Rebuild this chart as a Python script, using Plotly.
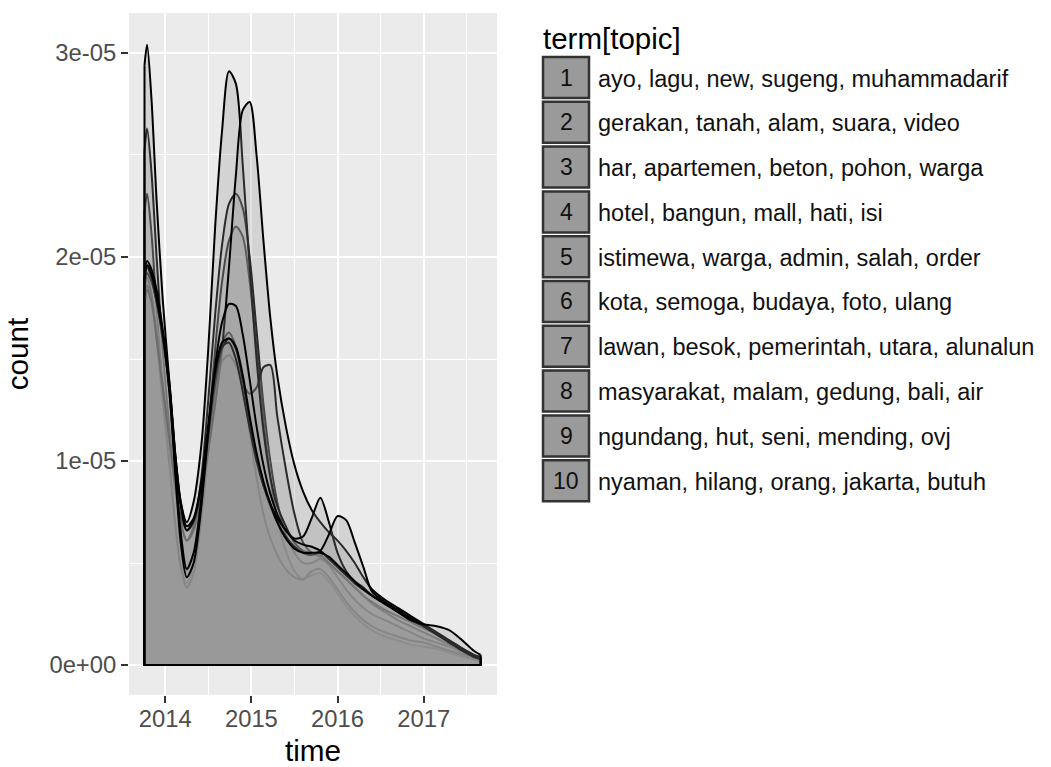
import plotly.graph_objects as go

# ---- data: topic-density curves over time (count in units of 1e-05) ----
time_years = [2013.76, 2013.79, 2013.84, 2013.90, 2013.97, 2014.05, 2014.12, 2014.18,
              2014.25, 2014.33, 2014.42, 2014.50, 2014.58, 2014.66, 2014.74, 2014.82,
              2014.90, 2014.98, 2015.06, 2015.14, 2015.22, 2015.30, 2015.40, 2015.50,
              2015.60, 2015.70, 2015.80, 2015.90, 2016.00, 2016.10, 2016.20, 2016.30,
              2016.40, 2016.55, 2016.70, 2016.85, 2017.00, 2017.15, 2017.30, 2017.45,
              2017.58, 2017.66]

count_t1 = [2.22, 2.31, 2.12, 1.75, 1.35, 0.98, 0.68, 0.49, 0.40, 0.50, 0.78, 1.15, 1.55, 1.88,
            2.08, 2.15, 2.10, 1.88, 1.55, 1.20, 0.92, 0.72, 0.56, 0.46, 0.42, 0.44, 0.45, 0.41,
            0.35, 0.29, 0.24, 0.20, 0.17, 0.14, 0.12, 0.10, 0.09, 0.08, 0.06, 0.04, 0.03, 0.02]
count_t2 = [2.52, 2.63, 2.42, 2.00, 1.55, 1.15, 0.86, 0.70, 0.61, 0.68, 0.92, 1.30, 1.72, 2.06,
            2.26, 2.31, 2.24, 2.00, 1.64, 1.28, 1.00, 0.80, 0.64, 0.55, 0.50, 0.50, 0.52, 0.49,
            0.43, 0.37, 0.32, 0.28, 0.25, 0.22, 0.19, 0.16, 0.13, 0.11, 0.09, 0.06, 0.03, 0.02]
count_t3 = [1.82, 1.90, 1.82, 1.60, 1.30, 0.98, 0.68, 0.48, 0.38, 0.45, 0.72, 1.05, 1.38, 1.58,
            1.63, 1.56, 1.38, 1.15, 0.92, 0.74, 0.62, 0.54, 0.47, 0.43, 0.42, 0.46, 0.47, 0.43,
            0.37, 0.31, 0.26, 0.22, 0.19, 0.16, 0.14, 0.12, 0.11, 0.09, 0.07, 0.05, 0.03, 0.02]
count_t4 = [1.78, 1.86, 1.80, 1.62, 1.38, 1.10, 0.85, 0.70, 0.61, 0.66, 0.84, 1.10, 1.35, 1.49,
            1.52, 1.47, 1.38, 1.33, 1.36, 1.46, 1.47, 1.22, 0.96, 0.74, 0.60, 0.55, 0.53, 0.50,
            0.46, 0.42, 0.38, 0.34, 0.30, 0.26, 0.22, 0.19, 0.16, 0.13, 0.10, 0.07, 0.04, 0.03]
count_t5 = [2.94, 3.04, 2.78, 2.28, 1.80, 1.38, 1.02, 0.80, 0.70, 0.80, 1.08, 1.55, 2.15, 2.62,
            2.91, 2.85, 2.45, 1.95, 1.50, 1.15, 0.92, 0.78, 0.68, 0.60, 0.56, 0.55, 0.54, 0.50,
            0.46, 0.42, 0.38, 0.34, 0.31, 0.27, 0.24, 0.21, 0.18, 0.15, 0.12, 0.08, 0.05, 0.04]
count_t6 = [1.76, 1.84, 1.78, 1.60, 1.36, 1.10, 0.87, 0.73, 0.66, 0.70, 0.85, 1.05, 1.28, 1.55,
            1.95, 2.40, 2.72, 2.76, 2.50, 2.08, 1.70, 1.42, 1.17, 0.98, 0.85, 0.76, 0.70, 0.65,
            0.61, 0.56, 0.50, 0.43, 0.37, 0.32, 0.28, 0.24, 0.20, 0.16, 0.12, 0.08, 0.05, 0.04]
count_t7 = [1.90, 1.98, 1.94, 1.84, 1.65, 1.38, 1.02, 0.80, 0.68, 0.72, 0.90, 1.18, 1.47, 1.68,
            1.77, 1.76, 1.62, 1.40, 1.17, 0.98, 0.84, 0.74, 0.66, 0.62, 0.63, 0.72, 0.82, 0.70,
            0.55, 0.46, 0.41, 0.38, 0.34, 0.30, 0.26, 0.22, 0.19, 0.15, 0.11, 0.07, 0.04, 0.03]
count_t8 = [1.85, 1.92, 1.88, 1.78, 1.60, 1.36, 1.00, 0.78, 0.66, 0.71, 0.88, 1.12, 1.38, 1.55,
            1.60, 1.55, 1.40, 1.20, 1.02, 0.88, 0.78, 0.70, 0.63, 0.58, 0.55, 0.54, 0.56, 0.64,
            0.73, 0.71, 0.60, 0.48, 0.36, 0.31, 0.27, 0.23, 0.19, 0.15, 0.11, 0.07, 0.04, 0.03]
count_t9 = [1.88, 1.95, 1.90, 1.78, 1.62, 1.34, 0.95, 0.65, 0.47, 0.55, 0.82, 1.15, 1.42, 1.56,
            1.58, 1.50, 1.34, 1.16, 1.00, 0.88, 0.79, 0.72, 0.66, 0.61, 0.59, 0.58, 0.56, 0.52,
            0.48, 0.44, 0.40, 0.37, 0.34, 0.30, 0.26, 0.22, 0.19, 0.15, 0.11, 0.07, 0.04, 0.03]
count_t10 = [1.89, 1.96, 1.92, 1.80, 1.63, 1.33, 0.92, 0.60, 0.43, 0.50, 0.78, 1.14, 1.44, 1.58,
             1.60, 1.56, 1.42, 1.22, 1.04, 0.90, 0.79, 0.70, 0.62, 0.57, 0.55, 0.55, 0.55, 0.53,
             0.49, 0.45, 0.41, 0.37, 0.34, 0.30, 0.26, 0.22, 0.20, 0.19, 0.17, 0.12, 0.07, 0.05]

COUNT_UNIT = 1e-5

topic_ids = ["1", "2", "3", "4", "5", "6", "7", "8", "9", "10"]
topic_terms = [
    "ayo, lagu, new, sugeng, muhammadarif",
    "gerakan, tanah, alam, suara, video",
    "har, apartemen, beton, pohon, warga",
    "hotel, bangun, mall, hati, isi",
    "istimewa, warga, admin, salah, order",
    "kota, semoga, budaya, foto, ulang",
    "lawan, besok, pemerintah, utara, alunalun",
    "masyarakat, malam, gedung, bali, air",
    "ngundang, hut, seni, mending, ovj",
    "nyaman, hilang, orang, jakarta, butuh",
]

year_ticks = [2014, 2015, 2016, 2017]
year_minor = [2014.5, 2015.5, 2016.5, 2017.5]
count_ticks = [0.0, 1e-5, 2e-5, 3e-5]
count_ticktext = ["0e+00", "1e-05", "2e-05", "3e-05"]
count_minor = [0.5e-5, 1.5e-5, 2.5e-5]

series = [count_t1, count_t2, count_t3, count_t4, count_t5,
          count_t6, count_t7, count_t8, count_t9, count_t10]

# ---- styling ----
FONT = "Liberation Sans, Arial, Helvetica, sans-serif"
FILL = "rgba(150,150,150,0.28)"
LINE = "black"
W, H = 1051, 767
PL, PR, PT, PB = 129, 497, 13, 695   # panel box in pixels

fig = go.Figure()

for tid, vals in zip(topic_ids, series):
    y = [v * COUNT_UNIT for v in vals]
    # density outline with its own translucent fill
    fig.add_trace(go.Scatter(
        x=time_years, y=y, mode="lines", name=tid,
        line=dict(color=LINE, width=2, shape="spline", smoothing=0.8),
        fill="tozeroy", fillcolor=FILL,
        showlegend=False, hoverinfo="skip",
    ))
    # closing edges of the density polygon (left side, baseline, right side)
    fig.add_trace(go.Scatter(
        x=[time_years[0], time_years[0], time_years[-1], time_years[-1]],
        y=[y[0], 0, 0, y[-1]], mode="lines",
        line=dict(color=LINE, width=2),
        showlegend=False, hoverinfo="skip",
    ))

# ---- legend drawn as keyed boxes with topic numbers ----
def px_x(px):
    return (px - PL) / (PR - PL)

def px_y(py):
    return (PB - py) / (PB - PT)

shapes = []
annotations = []
key_left, key_w, key_h, key_top, key_pitch = 543, 46, 41, 57, 44.8
for i, (tid, terms) in enumerate(zip(topic_ids, topic_terms)):
    top = key_top + i * key_pitch
    shapes.append(dict(
        type="rect", xref="paper", yref="paper",
        x0=px_x(key_left), x1=px_x(key_left + key_w),
        y0=px_y(top + key_h), y1=px_y(top),
        fillcolor="#9a9a9a", line=dict(color="#333333", width=2.5),
    ))
    cy = top + key_h / 2
    annotations.append(dict(
        xref="paper", yref="paper", x=px_x(key_left + key_w / 2), y=px_y(cy),
        text=tid, showarrow=False, xanchor="center", yanchor="middle",
        font=dict(family=FONT, size=23, color="#111111"),
    ))
    annotations.append(dict(
        xref="paper", yref="paper", x=px_x(596), y=px_y(cy + 1),
        text=terms, showarrow=False, xanchor="left", yanchor="middle",
        font=dict(family=FONT, size=23.5, color="#111111"),
    ))

annotations.append(dict(
    xref="paper", yref="paper", x=px_x(541), y=px_y(39),
    text="term[topic]", showarrow=False, xanchor="left", yanchor="middle",
    font=dict(family=FONT, size=29.5, color="black"),
))

fig.update_layout(
    width=W, height=H,
    margin=dict(l=PL, r=W - PR, t=PT, b=H - PB, pad=0, autoexpand=False),
    paper_bgcolor="white", plot_bgcolor="#EBEBEB",
    font=dict(family=FONT),
    shapes=shapes, annotations=annotations,
    showlegend=False,
)

fig.update_xaxes(
    range=[2013.58, 2017.85], automargin=False,
    tickvals=year_ticks, ticktext=[str(t) for t in year_ticks],
    ticks="outside", ticklen=7, tickwidth=2, tickcolor="#333333",
    ticklabelstandoff=-5,
    tickfont=dict(family=FONT, size=23.8, color="#4D4D4D"),
    showgrid=True, gridcolor="white", gridwidth=2.2,
    minor=dict(tickvals=year_minor, showgrid=True, gridcolor="white", gridwidth=1.1, ticks=""),
    zeroline=False, showline=False,
    title=dict(text="time", font=dict(family=FONT, size=29.7, color="black"), standoff=10),
)
fig.update_yaxes(
    range=[-1.47e-6, 3.196e-5], automargin=False,
    tickvals=count_ticks, ticktext=count_ticktext,
    ticks="outside", ticklen=7, tickwidth=2, tickcolor="#333333",
    tickfont=dict(family=FONT, size=23.8, color="#4D4D4D"),
    showgrid=True, gridcolor="white", gridwidth=2.2,
    minor=dict(tickvals=count_minor, showgrid=True, gridcolor="white", gridwidth=1.1, ticks=""),
    zeroline=False, showline=False,
    title=dict(text="count", font=dict(family=FONT, size=29.7, color="black"), standoff=12),
)

fig.write_html("out.html")
